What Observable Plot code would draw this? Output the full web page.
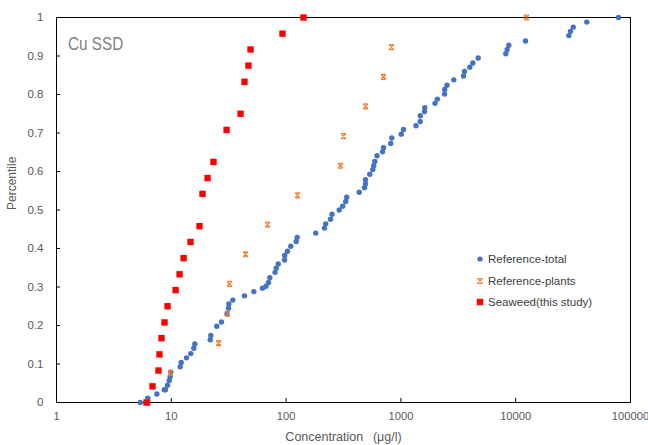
<!DOCTYPE html>
<html><head><meta charset="utf-8">
<script src="https://cdn.jsdelivr.net/npm/d3@7"></script>
<script src="https://cdn.jsdelivr.net/npm/@observablehq/plot@0.6"></script>
<style>
body{margin:0;background:#fff;}
#wrap{position:relative;width:648px;height:445px;font-family:"Liberation Sans",Arial,sans-serif;}
#title{position:absolute;left:68px;top:33px;font-family:"Liberation Sans",Arial,sans-serif;font-size:18px;line-height:22px;color:#7f7f7f;transform:scaleX(0.85);transform-origin:left center;}
.row{position:absolute;left:474px;height:14px;line-height:14px;font-size:11.5px;color:#404040;display:flex;align-items:center;white-space:nowrap;}
.row svg{width:12px;height:14px;margin-right:2px;}
</style></head><body>
<div id="wrap"></div>
<script>
// Reference-total
const totalConc = [5.36,6.24,7.48,8.68,8.90,9.27,9.59,9.78,9.90,11.96,12.20,13.56,14.79,15.70,16.02,21.82,22.09,24.91,27.37,30.56,31.50,31.69,34.34,43.42,52.32,62.30,66.84,70.28,72.11,80.08,82.0,85.36,96.85,97.2,102.8,109.9,122.4,124.9,181.1,216.0,221.3,243.7,251.1,290.1,311.2,330.6,337.3,433.4,481.9,491.6,491.6,535.9,569.1,579.4,592.4,619.2,691.4,705.4,815.1,833.3,1006,1053,1353,1473,1476,1606,1613,1982,2076,2398,2408,2521,2889,3510,3581,3983,4229,4714,8200,8433,8708,12170,29010,30020,31700,41630,78630];
const totalPct = [0,0.011,0.022,0.033,0.033,0.045,0.057,0.067,0.079,0.093,0.104,0.116,0.127,0.141,0.152,0.163,0.174,0.198,0.209,0.230,0.245,0.256,0.266,0.277,0.288,0.297,0.302,0.312,0.324,0.338,0.349,0.360,0.370,0.382,0.393,0.406,0.418,0.429,0.440,0.453,0.464,0.476,0.489,0.500,0.510,0.522,0.533,0.546,0.558,0.568,0.579,0.593,0.605,0.615,0.626,0.641,0.651,0.662,0.673,0.687,0.697,0.709,0.719,0.730,0.745,0.756,0.766,0.777,0.788,0.801,0.813,0.824,0.838,0.848,0.860,0.871,0.882,0.895,0.906,0.917,0.928,0.939,0.953,0.964,0.975,0.988,1.0];
// Reference-plants
const plantsConc = [6.3,9.84,25.8,30.9,32.1,44.3,68.9,125.7,297.8,316,492,705,828,12420];
const plantsPct = [0,0.077,0.154,0.231,0.308,0.385,0.462,0.538,0.615,0.692,0.769,0.846,0.923,1];
// Seaweed (this study)
const seaweedConc = [6.08,6.86,7.73,7.89,8.22,8.73,9.27,10.9,11.8,12.8,14.7,17.6,18.7,20.7,23.3,30.3,40.1,43.4,47.0,49.0,93.0,141.8];
const seaweedPct = [0,0.042,0.083,0.125,0.167,0.208,0.25,0.292,0.333,0.375,0.417,0.458,0.542,0.583,0.625,0.708,0.75,0.833,0.875,0.917,0.958,1];
// ticks and labels
const xTicks = [1,10,100,1000,10000,100000];
const yTicks = [0,0.1,0.2,0.3,0.4,0.5,0.6,0.7,0.8,0.9,1];
const xTitle = "Concentration\u2002\u00a0(μg/l)";
const yTitle = "Percentile";
const seriesNames = ["Reference-total","Reference-plants","Seaweed(this study)"];
const seriesColors = ["#4472C4","#ED7D31","#FF0000"];

const total = totalConc.map((c,i)=>({c, p: totalPct[i]}));
const plants = plantsConc.map((c,i)=>({c, p: plantsPct[i]}));
const seaweed = seaweedConc.map((c,i)=>({c, p: seaweedPct[i]}));

const starSym = {
  draw(ctx, size) {
    const r = Math.sqrt(size / Math.PI);
    ctx.moveTo(-r,-r); ctx.lineTo(r,r);
    ctx.moveTo(r,-r); ctx.lineTo(-r,r);
    ctx.moveTo(-r*0.8,-r); ctx.lineTo(r*0.8,-r);
    ctx.moveTo(-r*0.8,r); ctx.lineTo(r*0.8,r);
  }
};

const chart = Plot.plot({
  width: 648, height: 445,
  marginLeft: 56, marginRight: 18, marginTop: 17, marginBottom: 43,
  style: {fontFamily: '"Liberation Sans", Arial, sans-serif', fontSize: "11.5px", background: "white", overflow: "visible"},
  x: {type: "log", domain: [1, 100000]},
  y: {domain: [0, 1]},
  marks: [
    Plot.axisX({ticks: xTicks, tickFormat: d => String(d), tickSize: -4, tickPadding: 14, stroke: "#000", fill: "#595959", label: null, fontSize: 11.2}),
    Plot.axisY({ticks: yTicks, tickFormat: d => String(+d.toFixed(1)), tickSize: -4, tickPadding: 17, stroke: "#000", fill: "#595959", label: null}),
    Plot.text([xTitle], {text: d => d, frameAnchor: "bottom", dy: 38, fill: "#595959", fontSize: 12.5}),
    Plot.text([yTitle], {text: d => d, frameAnchor: "left", dx: -44, rotate: -90, fill: "#595959", fontSize: 12}),
    Plot.frame({stroke: "#000", strokeWidth: 1}),
    Plot.dot(total, {x: "c", y: "p", r: 2.7, fill: seriesColors[0], stroke: null}),
    Plot.dot(plants, {x: "c", y: "p", r: 2.5, symbol: starSym, fill: "none", stroke: seriesColors[1], strokeWidth: 1.2}),
    Plot.dot(seaweed, {x: "c", y: "p", r: 3.6, symbol: "square", fill: seriesColors[2], stroke: null})
  ]
});

const wrap = document.getElementById("wrap");
wrap.appendChild(chart);
const t = document.createElement("div"); t.id = "title"; t.textContent = "Cu SSD"; wrap.appendChild(t);

const legendTops = [252, 274, 294.5];
const swatches = [
  `<circle cx="6" cy="7" r="2.6" fill="${seriesColors[0]}"/>`,
  `<path d="M3.5,4.5L8.5,9.5M8.5,4.5L3.5,9.5M4,4.5H8M4,9.5H8" stroke="${seriesColors[1]}" stroke-width="1.1" fill="none"/>`,
  `<rect x="2.8" y="3.8" width="6.4" height="6.4" fill="${seriesColors[2]}"/>`
];
seriesNames.forEach((name, i) => {
  const row = document.createElement("div");
  row.className = "row";
  row.style.top = legendTops[i] + "px";
  row.innerHTML = `<svg viewBox="0 0 12 14">${swatches[i]}</svg><span>${name}</span>`;
  wrap.appendChild(row);
});
</script>
</body></html>
